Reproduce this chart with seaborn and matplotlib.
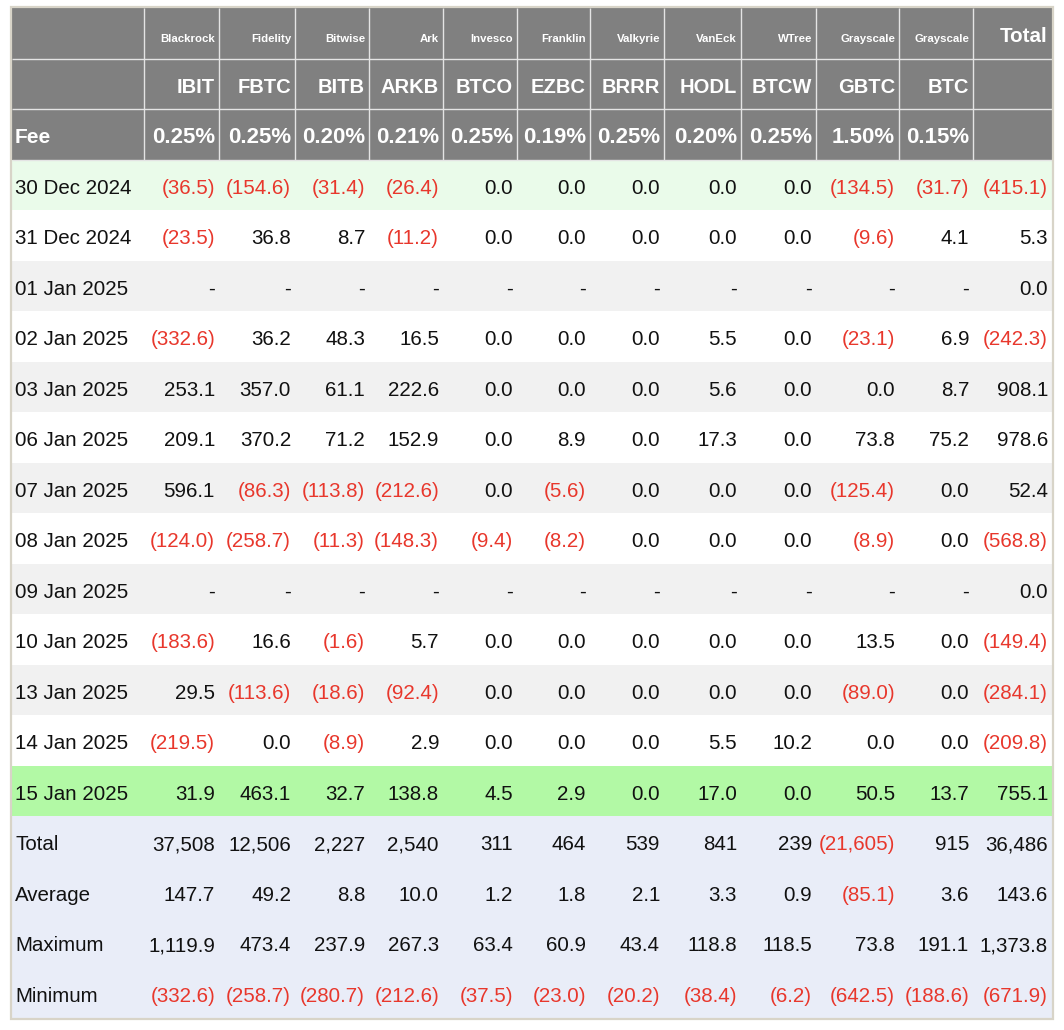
import matplotlib.pyplot as plt
from matplotlib.colors import ListedColormap
from matplotlib.patches import Rectangle
import numpy as np
import pandas as pd
import seaborn as sns

sns.set_theme(style="white")
plt.rcParams['font.family'] = ['Liberation Sans', 'DejaVu Sans']

# header
funds = ["Blackrock", "Fidelity", "Bitwise", "Ark", "Invesco", "Franklin",
         "Valkyrie", "VanEck", "WTree", "Grayscale", "Grayscale"]
tickers = ["IBIT", "FBTC", "BITB", "ARKB", "BTCO", "EZBC", "BRRR", "HODL",
           "BTCW", "GBTC", "BTC"]
fees = ["0.25%", "0.25%", "0.20%", "0.21%", "0.25%", "0.19%", "0.25%",
        "0.20%", "0.25%", "1.50%", "0.15%"]

dates = ["30 Dec 2024", "31 Dec 2024", "01 Jan 2025", "02 Jan 2025",
         "03 Jan 2025", "06 Jan 2025", "07 Jan 2025", "08 Jan 2025",
         "09 Jan 2025", "10 Jan 2025", "13 Jan 2025", "14 Jan 2025",
         "15 Jan 2025"]

# daily flows (US$m), None = holiday
N = None
ibit = [-36.5, -23.5, N, -332.6, 253.1, 209.1, 596.1, -124.0, N, -183.6, 29.5, -219.5, 31.9]
fbtc = [-154.6, 36.8, N, 36.2, 357.0, 370.2, -86.3, -258.7, N, 16.6, -113.6, 0.0, 463.1]
bitb = [-31.4, 8.7, N, 48.3, 61.1, 71.2, -113.8, -11.3, N, -1.6, -18.6, -8.9, 32.7]
arkb = [-26.4, -11.2, N, 16.5, 222.6, 152.9, -212.6, -148.3, N, 5.7, -92.4, 2.9, 138.8]
btco = [0.0, 0.0, N, 0.0, 0.0, 0.0, 0.0, -9.4, N, 0.0, 0.0, 0.0, 4.5]
ezbc = [0.0, 0.0, N, 0.0, 0.0, 8.9, -5.6, -8.2, N, 0.0, 0.0, 0.0, 2.9]
brrr = [0.0, 0.0, N, 0.0, 0.0, 0.0, 0.0, 0.0, N, 0.0, 0.0, 0.0, 0.0]
hodl = [0.0, 0.0, N, 5.5, 5.6, 17.3, 0.0, 0.0, N, 0.0, 0.0, 5.5, 17.0]
btcw = [0.0, 0.0, N, 0.0, 0.0, 0.0, 0.0, 0.0, N, 0.0, 0.0, 10.2, 0.0]
gbtc = [-134.5, -9.6, N, -23.1, 0.0, 73.8, -125.4, -8.9, N, 13.5, -89.0, 0.0, 50.5]
btc = [-31.7, 4.1, N, 6.9, 8.7, 75.2, 0.0, 0.0, N, 0.0, 0.0, 0.0, 13.7]
total = [-415.1, 5.3, 0.0, -242.3, 908.1, 978.6, 52.4, -568.8, 0.0, -149.4, -284.1, -209.8, 755.1]

# summary rows
sum_labels = ["Total", "Average", "Maximum", "Minimum"]
tot_row = [37508, 12506, 2227, 2540, 311, 464, 539, 841, 239, -21605, 915, 36486]
avg_row = [147.7, 49.2, 8.8, 10.0, 1.2, 1.8, 2.1, 3.3, 0.9, -85.1, 3.6, 143.6]
max_row = [1119.9, 473.4, 237.9, 267.3, 63.4, 60.9, 43.4, 118.8, 118.5, 73.8, 191.1, 1373.8]
min_row = [-332.6, -258.7, -280.7, -212.6, -37.5, -23.0, -20.2, -38.4, -6.2, -642.5, -188.6, -671.9]

daily = pd.DataFrame({"IBIT": ibit, "FBTC": fbtc, "BITB": bitb, "ARKB": arkb,
                      "BTCO": btco, "EZBC": ezbc, "BRRR": brrr, "HODL": hodl,
                      "BTCW": btcw, "GBTC": gbtc, "BTC": btc, "Total": total},
                     index=dates)

W, H = 1064, 1030
# column edges in pixels
edges = [12, 144, 219, 295, 369, 443, 517, 590, 664, 741, 816, 899, 973, 1052]
x0, x1 = edges[0], edges[-1]
top, bottom = 8, 1018
nrows = 3 + len(dates) + len(sum_labels)

def px(p):
    return (p - x0) / (x1 - x0)

# row background codes
# 0 header, 1 first day, 2 white, 3 light gray, 4 latest day, 5 summary
codes = [0, 0, 0, 1]
for i in range(len(dates) - 2):
    codes.append(2 if i % 2 == 0 else 3)
codes += [4] + [5] * len(sum_labels)
bg = pd.DataFrame({"bg": codes})
colors = ["#808080", "#eafbea", "#ffffff", "#f1f1f1", "#b2f9a5", "#e9edf8"]

fig = plt.figure(figsize=(W / 100, H / 100), dpi=100)
ax = fig.add_axes([x0 / W, 1 - bottom / H, (x1 - x0) / W, (bottom - top) / H])
sns.heatmap(bg, cmap=ListedColormap(colors), vmin=-0.5, vmax=5.5, cbar=False,
            xticklabels=False, yticklabels=False, ax=ax)
ax.set_xlim(0, 1)
ax.set_ylim(nrows, 0)

# header grid lines
line_c = "#e4e4e4"
ax.vlines([px(e) for e in edges[1:-1]], 0, 3, color=line_c, lw=1.0)
ax.hlines([1, 2, 3], 0, 1, color=line_c, lw=1.0)

red = "#e8372c"
black = "#111111"
off = 0.07
pad = 4
fs = 14.8

def fmt(v, nd=1):
    if v is None or (isinstance(v, float) and np.isnan(v)):
        return "-", black
    s = "{:,.{}f}".format(abs(v), nd)
    if v < 0:
        return "(" + s + ")", red
    return s, black

# header text
for j in range(len(tickers)):
    xr = px(edges[j + 2] - pad)
    ax.text(xr, 0.5 + off + 0.05, funds[j], ha="right", va="center",
            color="white", fontsize=8.2, fontweight="bold")
    ax.text(xr, 1.5 + off, tickers[j], ha="right", va="center",
            color="white", fontsize=14.5, fontweight="bold")
    ax.text(xr, 2.5 + off, fees[j], ha="right", va="center",
            color="white", fontsize=16, fontweight="bold")
ax.text(px(edges[-1] - pad), 0.5 + off, "Total", ha="right", va="center",
        color="white", fontsize=14.8, fontweight="bold")
ax.text(px(x0 + 3), 2.5 + off, "Fee", ha="left", va="center",
        color="white", fontsize=15, fontweight="bold")

# daily rows
for i, d in enumerate(daily.index):
    y = 3 + i + 0.5 + off
    ax.text(px(x0 + 3), y, d, ha="left", va="center", color=black, fontsize=fs)
    for j, col in enumerate(daily.columns):
        s, c = fmt(daily[col].iloc[i])
        ax.text(px(edges[j + 2] - pad), y, s, ha="right", va="center",
                color=c, fontsize=fs)

# summary rows
for k, (lab, vals) in enumerate(zip(sum_labels, [tot_row, avg_row, max_row, min_row])):
    y = 3 + len(dates) + k + 0.5 + off
    ax.text(px(x0 + 3), y, lab, ha="left", va="center", color=black, fontsize=fs)
    for j, v in enumerate(vals):
        s, c = fmt(v, 0 if lab == "Total" else 1)
        ax.text(px(edges[j + 2] - pad), y, s, ha="right", va="center",
                color=c, fontsize=fs)

for sp in ax.spines.values():
    sp.set_visible(False)

# outer frame
fig.patches.append(Rectangle((11 / W, 1 - 1019 / H), 1042 / W, 1012 / H,
                             transform=fig.transFigure, fill=False,
                             edgecolor="#d8d4c8", lw=1.6))

fig.savefig("out.png", dpi=100)
